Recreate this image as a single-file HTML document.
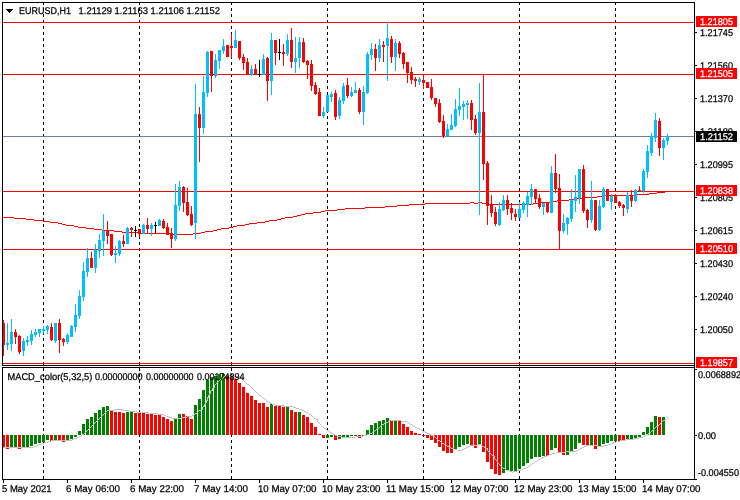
<!DOCTYPE html><html><head><meta charset="utf-8"><title>EURUSD,H1</title>
<style>html,body{margin:0;padding:0;background:#fff}svg{display:block}text{font-family:"Liberation Sans",sans-serif;font-size:9.8px;stroke-width:0.25px;text-rendering:geometricPrecision}</style></head><body>
<svg width="740" height="500" viewBox="0 0 740 500" shape-rendering="crispEdges">
<rect x="0" y="0" width="740" height="500" fill="#fff"/>
<path d="M43.5 2V365" stroke="#000" stroke-width="1" stroke-dasharray="3 3" stroke-dashoffset="0" fill="none"/>
<path d="M43.5 368V479" stroke="#000" stroke-width="1" stroke-dasharray="3 3" stroke-dashoffset="0" fill="none"/>
<path d="M139.5 2V365" stroke="#000" stroke-width="1" stroke-dasharray="3 3" stroke-dashoffset="0" fill="none"/>
<path d="M139.5 368V479" stroke="#000" stroke-width="1" stroke-dasharray="3 3" stroke-dashoffset="0" fill="none"/>
<path d="M231.5 2V365" stroke="#000" stroke-width="1" stroke-dasharray="3 3" stroke-dashoffset="0" fill="none"/>
<path d="M231.5 368V479" stroke="#000" stroke-width="1" stroke-dasharray="3 3" stroke-dashoffset="0" fill="none"/>
<path d="M327.5 2V365" stroke="#000" stroke-width="1" stroke-dasharray="3 3" stroke-dashoffset="0" fill="none"/>
<path d="M327.5 368V479" stroke="#000" stroke-width="1" stroke-dasharray="3 3" stroke-dashoffset="0" fill="none"/>
<path d="M423.5 2V365" stroke="#000" stroke-width="1" stroke-dasharray="3 3" stroke-dashoffset="0" fill="none"/>
<path d="M423.5 368V479" stroke="#000" stroke-width="1" stroke-dasharray="3 3" stroke-dashoffset="0" fill="none"/>
<path d="M519.5 2V365" stroke="#000" stroke-width="1" stroke-dasharray="3 3" stroke-dashoffset="0" fill="none"/>
<path d="M519.5 368V479" stroke="#000" stroke-width="1" stroke-dasharray="3 3" stroke-dashoffset="0" fill="none"/>
<path d="M615.5 2V365" stroke="#000" stroke-width="1" stroke-dasharray="3 3" stroke-dashoffset="0" fill="none"/>
<path d="M615.5 368V479" stroke="#000" stroke-width="1" stroke-dasharray="3 3" stroke-dashoffset="0" fill="none"/>
<rect x="3" y="22" width="691" height="1" fill="#FF0000"/>
<rect x="3" y="74" width="691" height="1" fill="#FF0000"/>
<rect x="3" y="191" width="691" height="1" fill="#FF0000"/>
<rect x="3" y="249" width="691" height="1" fill="#FF0000"/>
<rect x="3" y="363" width="691" height="1" fill="#FF0000"/>
<rect x="3" y="136" width="691" height="1" fill="#708090"/>
<rect x="3" y="217" width="11" height="1" fill="#FF0000"/>
<rect x="14" y="218" width="12" height="1" fill="#FF0000"/>
<rect x="26" y="219" width="8" height="1" fill="#FF0000"/>
<rect x="34" y="220" width="9" height="1" fill="#FF0000"/>
<rect x="43" y="221" width="7" height="1" fill="#FF0000"/>
<rect x="50" y="222" width="8" height="1" fill="#FF0000"/>
<rect x="58" y="223" width="4" height="1" fill="#FF0000"/>
<rect x="62" y="224" width="4" height="1" fill="#FF0000"/>
<rect x="66" y="225" width="8" height="1" fill="#FF0000"/>
<rect x="74" y="226" width="4" height="1" fill="#FF0000"/>
<rect x="78" y="227" width="8" height="1" fill="#FF0000"/>
<rect x="86" y="228" width="8" height="1" fill="#FF0000"/>
<rect x="94" y="229" width="8" height="1" fill="#FF0000"/>
<rect x="102" y="230" width="12" height="1" fill="#FF0000"/>
<rect x="114" y="231" width="8" height="1" fill="#FF0000"/>
<rect x="122" y="232" width="18" height="1" fill="#FF0000"/>
<rect x="140" y="233" width="30" height="1" fill="#FF0000"/>
<rect x="170" y="234" width="23" height="1" fill="#FF0000"/>
<rect x="193" y="233" width="8" height="1" fill="#FF0000"/>
<rect x="201" y="232" width="4" height="1" fill="#FF0000"/>
<rect x="205" y="231" width="8" height="1" fill="#FF0000"/>
<rect x="213" y="230" width="4" height="1" fill="#FF0000"/>
<rect x="217" y="229" width="4" height="1" fill="#FF0000"/>
<rect x="221" y="228" width="8" height="1" fill="#FF0000"/>
<rect x="229" y="227" width="4" height="1" fill="#FF0000"/>
<rect x="233" y="226" width="4" height="1" fill="#FF0000"/>
<rect x="237" y="225" width="8" height="1" fill="#FF0000"/>
<rect x="245" y="224" width="4" height="1" fill="#FF0000"/>
<rect x="249" y="223" width="8" height="1" fill="#FF0000"/>
<rect x="257" y="222" width="8" height="1" fill="#FF0000"/>
<rect x="265" y="221" width="4" height="1" fill="#FF0000"/>
<rect x="269" y="220" width="8" height="1" fill="#FF0000"/>
<rect x="277" y="219" width="4" height="1" fill="#FF0000"/>
<rect x="281" y="218" width="4" height="1" fill="#FF0000"/>
<rect x="285" y="217" width="8" height="1" fill="#FF0000"/>
<rect x="293" y="216" width="4" height="1" fill="#FF0000"/>
<rect x="297" y="215" width="4" height="1" fill="#FF0000"/>
<rect x="301" y="214" width="4" height="1" fill="#FF0000"/>
<rect x="305" y="213" width="8" height="1" fill="#FF0000"/>
<rect x="313" y="212" width="8" height="1" fill="#FF0000"/>
<rect x="321" y="211" width="4" height="1" fill="#FF0000"/>
<rect x="325" y="210" width="12" height="1" fill="#FF0000"/>
<rect x="337" y="209" width="8" height="1" fill="#FF0000"/>
<rect x="345" y="208" width="20" height="1" fill="#FF0000"/>
<rect x="365" y="207" width="20" height="1" fill="#FF0000"/>
<rect x="385" y="206" width="12" height="1" fill="#FF0000"/>
<rect x="397" y="205" width="12" height="1" fill="#FF0000"/>
<rect x="409" y="204" width="16" height="1" fill="#FF0000"/>
<rect x="425" y="203" width="45" height="1" fill="#FF0000"/>
<rect x="470" y="202" width="4" height="1" fill="#FF0000"/>
<rect x="474" y="203" width="4" height="1" fill="#FF0000"/>
<rect x="478" y="202" width="4" height="1" fill="#FF0000"/>
<rect x="482" y="203" width="4" height="1" fill="#FF0000"/>
<rect x="486" y="204" width="47" height="1" fill="#FF0000"/>
<rect x="533" y="203" width="5" height="1" fill="#FF0000"/>
<rect x="538" y="202" width="12" height="1" fill="#FF0000"/>
<rect x="550" y="201" width="7" height="1" fill="#FF0000"/>
<rect x="557" y="200" width="12" height="1" fill="#FF0000"/>
<rect x="569" y="199" width="8" height="1" fill="#FF0000"/>
<rect x="577" y="198" width="5" height="1" fill="#FF0000"/>
<rect x="582" y="197" width="15" height="1" fill="#FF0000"/>
<rect x="597" y="196" width="6" height="1" fill="#FF0000"/>
<rect x="603" y="195" width="34" height="1" fill="#FF0000"/>
<rect x="637" y="194" width="12" height="1" fill="#FF0000"/>
<rect x="649" y="193" width="8" height="1" fill="#FF0000"/>
<rect x="657" y="192" width="8" height="1" fill="#FF0000"/>
<rect x="665" y="191" width="3" height="1" fill="#FF0000"/>
<rect x="3" y="320" width="1" height="36" fill="#FF0000"/>
<rect x="2" y="323" width="3" height="22" fill="#FF0000"/>
<rect x="7" y="323" width="1" height="27" fill="#00BFFF"/>
<rect x="6" y="343" width="3" height="2" fill="#00BFFF"/>
<rect x="11" y="319" width="1" height="32" fill="#00BFFF"/>
<rect x="10" y="332" width="3" height="12" fill="#00BFFF"/>
<rect x="15" y="329" width="1" height="15" fill="#FF0000"/>
<rect x="14" y="332" width="3" height="5" fill="#FF0000"/>
<rect x="19" y="335" width="1" height="19" fill="#FF0000"/>
<rect x="18" y="336" width="3" height="16" fill="#FF0000"/>
<rect x="23" y="338" width="1" height="18" fill="#00BFFF"/>
<rect x="22" y="341" width="3" height="10" fill="#00BFFF"/>
<rect x="27" y="336" width="1" height="10" fill="#00BFFF"/>
<rect x="26" y="340" width="3" height="2" fill="#00BFFF"/>
<rect x="31" y="330" width="1" height="15" fill="#00BFFF"/>
<rect x="30" y="334" width="3" height="7" fill="#00BFFF"/>
<rect x="35" y="329" width="1" height="8" fill="#00BFFF"/>
<rect x="34" y="332" width="3" height="3" fill="#00BFFF"/>
<rect x="39" y="329" width="1" height="8" fill="#00BFFF"/>
<rect x="38" y="329" width="3" height="4" fill="#00BFFF"/>
<rect x="43" y="326" width="1" height="8" fill="#00BFFF"/>
<rect x="42" y="329" width="3" height="2" fill="#00BFFF"/>
<rect x="47" y="325" width="1" height="9" fill="#00BFFF"/>
<rect x="46" y="326" width="3" height="4" fill="#00BFFF"/>
<rect x="51" y="323" width="1" height="18" fill="#FF0000"/>
<rect x="50" y="327" width="3" height="13" fill="#FF0000"/>
<rect x="55" y="323" width="1" height="20" fill="#00BFFF"/>
<rect x="54" y="323" width="3" height="18" fill="#00BFFF"/>
<rect x="59" y="319" width="1" height="34" fill="#FF0000"/>
<rect x="58" y="323" width="3" height="17" fill="#FF0000"/>
<rect x="63" y="338" width="1" height="8" fill="#FF0000"/>
<rect x="62" y="339" width="3" height="3" fill="#FF0000"/>
<rect x="67" y="333" width="1" height="11" fill="#00BFFF"/>
<rect x="66" y="335" width="3" height="7" fill="#00BFFF"/>
<rect x="71" y="325" width="1" height="12" fill="#00BFFF"/>
<rect x="70" y="326" width="3" height="11" fill="#00BFFF"/>
<rect x="75" y="304" width="1" height="28" fill="#00BFFF"/>
<rect x="74" y="315" width="3" height="12" fill="#00BFFF"/>
<rect x="79" y="290" width="1" height="29" fill="#00BFFF"/>
<rect x="78" y="296" width="3" height="20" fill="#00BFFF"/>
<rect x="83" y="262" width="1" height="39" fill="#00BFFF"/>
<rect x="82" y="271" width="3" height="26" fill="#00BFFF"/>
<rect x="87" y="248" width="1" height="29" fill="#00BFFF"/>
<rect x="86" y="258" width="3" height="14" fill="#00BFFF"/>
<rect x="91" y="252" width="1" height="16" fill="#FF0000"/>
<rect x="90" y="258" width="3" height="10" fill="#FF0000"/>
<rect x="95" y="244" width="1" height="29" fill="#00BFFF"/>
<rect x="94" y="250" width="3" height="18" fill="#00BFFF"/>
<rect x="99" y="234" width="1" height="24" fill="#00BFFF"/>
<rect x="98" y="240" width="3" height="11" fill="#00BFFF"/>
<rect x="103" y="214" width="1" height="42" fill="#00BFFF"/>
<rect x="102" y="231" width="3" height="10" fill="#00BFFF"/>
<rect x="107" y="221" width="1" height="23" fill="#FF0000"/>
<rect x="106" y="230" width="3" height="6" fill="#FF0000"/>
<rect x="111" y="234" width="1" height="22" fill="#FF0000"/>
<rect x="110" y="234" width="3" height="21" fill="#FF0000"/>
<rect x="115" y="246" width="1" height="17" fill="#00BFFF"/>
<rect x="114" y="253" width="3" height="2" fill="#00BFFF"/>
<rect x="119" y="240" width="1" height="16" fill="#00BFFF"/>
<rect x="118" y="241" width="3" height="13" fill="#00BFFF"/>
<rect x="123" y="235" width="1" height="12" fill="#FF0000"/>
<rect x="122" y="241" width="3" height="3" fill="#FF0000"/>
<rect x="127" y="227" width="1" height="17" fill="#00BFFF"/>
<rect x="126" y="228" width="3" height="16" fill="#00BFFF"/>
<rect x="131" y="227" width="1" height="10" fill="#FF0000"/>
<rect x="130" y="228" width="3" height="2" fill="#FF0000"/>
<rect x="135" y="226" width="1" height="11" fill="#000"/>
<rect x="134" y="230" width="3" height="1" fill="#000"/>
<rect x="139" y="229" width="1" height="8" fill="#FF0000"/>
<rect x="138" y="229" width="3" height="5" fill="#FF0000"/>
<rect x="143" y="224" width="1" height="10" fill="#00BFFF"/>
<rect x="142" y="225" width="3" height="9" fill="#00BFFF"/>
<rect x="147" y="218" width="1" height="16" fill="#FF0000"/>
<rect x="146" y="225" width="3" height="4" fill="#FF0000"/>
<rect x="151" y="223" width="1" height="13" fill="#00BFFF"/>
<rect x="150" y="225" width="3" height="4" fill="#00BFFF"/>
<rect x="155" y="222" width="1" height="11" fill="#000"/>
<rect x="154" y="225" width="3" height="1" fill="#000"/>
<rect x="159" y="219" width="1" height="7" fill="#00BFFF"/>
<rect x="158" y="220" width="3" height="6" fill="#00BFFF"/>
<rect x="163" y="219" width="1" height="10" fill="#FF0000"/>
<rect x="162" y="221" width="3" height="7" fill="#FF0000"/>
<rect x="167" y="223" width="1" height="12" fill="#FF0000"/>
<rect x="166" y="227" width="3" height="8" fill="#FF0000"/>
<rect x="171" y="228" width="1" height="20" fill="#FF0000"/>
<rect x="170" y="233" width="3" height="6" fill="#FF0000"/>
<rect x="175" y="184" width="1" height="57" fill="#00BFFF"/>
<rect x="174" y="205" width="3" height="34" fill="#00BFFF"/>
<rect x="179" y="181" width="1" height="30" fill="#00BFFF"/>
<rect x="178" y="187" width="3" height="19" fill="#00BFFF"/>
<rect x="183" y="186" width="1" height="26" fill="#FF0000"/>
<rect x="182" y="187" width="3" height="16" fill="#FF0000"/>
<rect x="187" y="188" width="1" height="28" fill="#FF0000"/>
<rect x="186" y="202" width="3" height="13" fill="#FF0000"/>
<rect x="191" y="206" width="1" height="20" fill="#FF0000"/>
<rect x="190" y="214" width="3" height="11" fill="#FF0000"/>
<rect x="195" y="84" width="1" height="155" fill="#00BFFF"/>
<rect x="194" y="114" width="3" height="109" fill="#00BFFF"/>
<rect x="199" y="107" width="1" height="55" fill="#FF0000"/>
<rect x="198" y="114" width="3" height="14" fill="#FF0000"/>
<rect x="203" y="76" width="1" height="58" fill="#00BFFF"/>
<rect x="202" y="92" width="3" height="36" fill="#00BFFF"/>
<rect x="207" y="51" width="1" height="46" fill="#00BFFF"/>
<rect x="206" y="52" width="3" height="41" fill="#00BFFF"/>
<rect x="211" y="51" width="1" height="41" fill="#FF0000"/>
<rect x="210" y="51" width="3" height="25" fill="#FF0000"/>
<rect x="215" y="54" width="1" height="24" fill="#00BFFF"/>
<rect x="214" y="60" width="3" height="16" fill="#00BFFF"/>
<rect x="219" y="50" width="1" height="19" fill="#00BFFF"/>
<rect x="218" y="50" width="3" height="11" fill="#00BFFF"/>
<rect x="223" y="39" width="1" height="15" fill="#00BFFF"/>
<rect x="222" y="46" width="3" height="5" fill="#00BFFF"/>
<rect x="227" y="45" width="1" height="12" fill="#FF0000"/>
<rect x="226" y="45" width="3" height="12" fill="#FF0000"/>
<rect x="231" y="34" width="1" height="24" fill="#FF0000"/>
<rect x="230" y="46" width="3" height="2" fill="#FF0000"/>
<rect x="235" y="30" width="1" height="18" fill="#00BFFF"/>
<rect x="234" y="40" width="3" height="8" fill="#00BFFF"/>
<rect x="239" y="41" width="1" height="19" fill="#FF0000"/>
<rect x="238" y="41" width="3" height="17" fill="#FF0000"/>
<rect x="243" y="54" width="1" height="16" fill="#FF0000"/>
<rect x="242" y="57" width="3" height="6" fill="#FF0000"/>
<rect x="247" y="58" width="1" height="17" fill="#FF0000"/>
<rect x="246" y="62" width="3" height="13" fill="#FF0000"/>
<rect x="251" y="65" width="1" height="11" fill="#00BFFF"/>
<rect x="250" y="69" width="3" height="6" fill="#00BFFF"/>
<rect x="255" y="64" width="1" height="11" fill="#FF0000"/>
<rect x="254" y="69" width="3" height="6" fill="#FF0000"/>
<rect x="259" y="60" width="1" height="17" fill="#000"/>
<rect x="258" y="74" width="3" height="1" fill="#000"/>
<rect x="263" y="54" width="1" height="21" fill="#00BFFF"/>
<rect x="262" y="59" width="3" height="16" fill="#00BFFF"/>
<rect x="267" y="57" width="1" height="44" fill="#FF0000"/>
<rect x="266" y="58" width="3" height="23" fill="#FF0000"/>
<rect x="271" y="33" width="1" height="62" fill="#00BFFF"/>
<rect x="270" y="40" width="3" height="41" fill="#00BFFF"/>
<rect x="275" y="40" width="1" height="25" fill="#FF0000"/>
<rect x="274" y="40" width="3" height="13" fill="#FF0000"/>
<rect x="279" y="39" width="1" height="21" fill="#000"/>
<rect x="278" y="52" width="3" height="1" fill="#000"/>
<rect x="283" y="44" width="1" height="22" fill="#FF0000"/>
<rect x="282" y="52" width="3" height="2" fill="#FF0000"/>
<rect x="287" y="34" width="1" height="22" fill="#00BFFF"/>
<rect x="286" y="40" width="3" height="14" fill="#00BFFF"/>
<rect x="291" y="28" width="1" height="40" fill="#FF0000"/>
<rect x="290" y="40" width="3" height="22" fill="#FF0000"/>
<rect x="295" y="37" width="1" height="36" fill="#00BFFF"/>
<rect x="294" y="58" width="3" height="4" fill="#00BFFF"/>
<rect x="299" y="37" width="1" height="31" fill="#00BFFF"/>
<rect x="298" y="42" width="3" height="16" fill="#00BFFF"/>
<rect x="303" y="38" width="1" height="25" fill="#FF0000"/>
<rect x="302" y="42" width="3" height="20" fill="#FF0000"/>
<rect x="307" y="60" width="1" height="19" fill="#FF0000"/>
<rect x="306" y="61" width="3" height="4" fill="#FF0000"/>
<rect x="311" y="60" width="1" height="31" fill="#FF0000"/>
<rect x="310" y="64" width="3" height="22" fill="#FF0000"/>
<rect x="315" y="82" width="1" height="13" fill="#FF0000"/>
<rect x="314" y="85" width="3" height="9" fill="#FF0000"/>
<rect x="319" y="88" width="1" height="28" fill="#FF0000"/>
<rect x="318" y="92" width="3" height="24" fill="#FF0000"/>
<rect x="323" y="107" width="1" height="11" fill="#00BFFF"/>
<rect x="322" y="112" width="3" height="4" fill="#00BFFF"/>
<rect x="327" y="95" width="1" height="17" fill="#00BFFF"/>
<rect x="326" y="95" width="3" height="17" fill="#00BFFF"/>
<rect x="331" y="92" width="1" height="10" fill="#00BFFF"/>
<rect x="330" y="94" width="3" height="3" fill="#00BFFF"/>
<rect x="335" y="90" width="1" height="30" fill="#FF0000"/>
<rect x="334" y="93" width="3" height="24" fill="#FF0000"/>
<rect x="339" y="97" width="1" height="22" fill="#00BFFF"/>
<rect x="338" y="100" width="3" height="16" fill="#00BFFF"/>
<rect x="343" y="83" width="1" height="21" fill="#00BFFF"/>
<rect x="342" y="86" width="3" height="15" fill="#00BFFF"/>
<rect x="347" y="78" width="1" height="20" fill="#FF0000"/>
<rect x="346" y="85" width="3" height="11" fill="#FF0000"/>
<rect x="351" y="87" width="1" height="10" fill="#00BFFF"/>
<rect x="350" y="92" width="3" height="4" fill="#00BFFF"/>
<rect x="355" y="82" width="1" height="11" fill="#00BFFF"/>
<rect x="354" y="90" width="3" height="3" fill="#00BFFF"/>
<rect x="359" y="88" width="1" height="26" fill="#FF0000"/>
<rect x="358" y="90" width="3" height="22" fill="#FF0000"/>
<rect x="363" y="86" width="1" height="39" fill="#00BFFF"/>
<rect x="362" y="92" width="3" height="20" fill="#00BFFF"/>
<rect x="367" y="52" width="1" height="42" fill="#00BFFF"/>
<rect x="366" y="54" width="3" height="39" fill="#00BFFF"/>
<rect x="371" y="43" width="1" height="17" fill="#00BFFF"/>
<rect x="370" y="49" width="3" height="6" fill="#00BFFF"/>
<rect x="375" y="44" width="1" height="27" fill="#FF0000"/>
<rect x="374" y="49" width="3" height="9" fill="#FF0000"/>
<rect x="379" y="39" width="1" height="23" fill="#00BFFF"/>
<rect x="378" y="45" width="3" height="13" fill="#00BFFF"/>
<rect x="383" y="41" width="1" height="21" fill="#FF0000"/>
<rect x="382" y="45" width="3" height="2" fill="#FF0000"/>
<rect x="387" y="22" width="1" height="59" fill="#00BFFF"/>
<rect x="386" y="38" width="3" height="8" fill="#00BFFF"/>
<rect x="391" y="36" width="1" height="27" fill="#FF0000"/>
<rect x="390" y="39" width="3" height="18" fill="#FF0000"/>
<rect x="395" y="39" width="1" height="32" fill="#00BFFF"/>
<rect x="394" y="43" width="3" height="14" fill="#00BFFF"/>
<rect x="399" y="41" width="1" height="17" fill="#FF0000"/>
<rect x="398" y="43" width="3" height="11" fill="#FF0000"/>
<rect x="403" y="52" width="1" height="17" fill="#FF0000"/>
<rect x="402" y="53" width="3" height="11" fill="#FF0000"/>
<rect x="407" y="62" width="1" height="21" fill="#FF0000"/>
<rect x="406" y="62" width="3" height="11" fill="#FF0000"/>
<rect x="411" y="67" width="1" height="17" fill="#FF0000"/>
<rect x="410" y="72" width="3" height="8" fill="#FF0000"/>
<rect x="415" y="77" width="1" height="10" fill="#FF0000"/>
<rect x="414" y="79" width="3" height="2" fill="#FF0000"/>
<rect x="419" y="77" width="1" height="8" fill="#00BFFF"/>
<rect x="418" y="79" width="3" height="3" fill="#00BFFF"/>
<rect x="423" y="75" width="1" height="14" fill="#FF0000"/>
<rect x="422" y="80" width="3" height="3" fill="#FF0000"/>
<rect x="427" y="82" width="1" height="6" fill="#FF0000"/>
<rect x="426" y="82" width="3" height="6" fill="#FF0000"/>
<rect x="431" y="79" width="1" height="21" fill="#FF0000"/>
<rect x="430" y="87" width="3" height="11" fill="#FF0000"/>
<rect x="435" y="98" width="1" height="9" fill="#FF0000"/>
<rect x="434" y="98" width="3" height="6" fill="#FF0000"/>
<rect x="439" y="99" width="1" height="24" fill="#FF0000"/>
<rect x="438" y="103" width="3" height="19" fill="#FF0000"/>
<rect x="443" y="115" width="1" height="23" fill="#FF0000"/>
<rect x="442" y="121" width="3" height="15" fill="#FF0000"/>
<rect x="447" y="124" width="1" height="12" fill="#00BFFF"/>
<rect x="446" y="129" width="3" height="7" fill="#00BFFF"/>
<rect x="451" y="114" width="1" height="16" fill="#00BFFF"/>
<rect x="450" y="125" width="3" height="5" fill="#00BFFF"/>
<rect x="455" y="99" width="1" height="28" fill="#00BFFF"/>
<rect x="454" y="109" width="3" height="17" fill="#00BFFF"/>
<rect x="459" y="88" width="1" height="28" fill="#00BFFF"/>
<rect x="458" y="106" width="3" height="4" fill="#00BFFF"/>
<rect x="463" y="101" width="1" height="19" fill="#00BFFF"/>
<rect x="462" y="104" width="3" height="3" fill="#00BFFF"/>
<rect x="467" y="100" width="1" height="19" fill="#00BFFF"/>
<rect x="466" y="103" width="3" height="2" fill="#00BFFF"/>
<rect x="471" y="100" width="1" height="30" fill="#FF0000"/>
<rect x="470" y="103" width="3" height="17" fill="#FF0000"/>
<rect x="475" y="115" width="1" height="20" fill="#FF0000"/>
<rect x="474" y="119" width="3" height="14" fill="#FF0000"/>
<rect x="479" y="83" width="1" height="132" fill="#00BFFF"/>
<rect x="478" y="112" width="3" height="21" fill="#00BFFF"/>
<rect x="483" y="74" width="1" height="106" fill="#FF0000"/>
<rect x="482" y="112" width="3" height="52" fill="#FF0000"/>
<rect x="487" y="161" width="1" height="64" fill="#FF0000"/>
<rect x="486" y="163" width="3" height="43" fill="#FF0000"/>
<rect x="491" y="195" width="1" height="22" fill="#FF0000"/>
<rect x="490" y="205" width="3" height="8" fill="#FF0000"/>
<rect x="495" y="207" width="1" height="19" fill="#FF0000"/>
<rect x="494" y="212" width="3" height="12" fill="#FF0000"/>
<rect x="499" y="202" width="1" height="24" fill="#00BFFF"/>
<rect x="498" y="209" width="3" height="16" fill="#00BFFF"/>
<rect x="503" y="195" width="1" height="16" fill="#00BFFF"/>
<rect x="502" y="200" width="3" height="10" fill="#00BFFF"/>
<rect x="507" y="195" width="1" height="20" fill="#FF0000"/>
<rect x="506" y="200" width="3" height="9" fill="#FF0000"/>
<rect x="511" y="203" width="1" height="17" fill="#FF0000"/>
<rect x="510" y="208" width="3" height="5" fill="#FF0000"/>
<rect x="515" y="209" width="1" height="12" fill="#FF0000"/>
<rect x="514" y="214" width="3" height="3" fill="#FF0000"/>
<rect x="519" y="202" width="1" height="16" fill="#00BFFF"/>
<rect x="518" y="209" width="3" height="9" fill="#00BFFF"/>
<rect x="523" y="201" width="1" height="12" fill="#00BFFF"/>
<rect x="522" y="203" width="3" height="7" fill="#00BFFF"/>
<rect x="527" y="192" width="1" height="25" fill="#00BFFF"/>
<rect x="526" y="196" width="3" height="9" fill="#00BFFF"/>
<rect x="531" y="184" width="1" height="21" fill="#00BFFF"/>
<rect x="530" y="189" width="3" height="8" fill="#00BFFF"/>
<rect x="535" y="189" width="1" height="14" fill="#FF0000"/>
<rect x="534" y="189" width="3" height="10" fill="#FF0000"/>
<rect x="539" y="194" width="1" height="15" fill="#FF0000"/>
<rect x="538" y="198" width="3" height="9" fill="#FF0000"/>
<rect x="543" y="203" width="1" height="12" fill="#00BFFF"/>
<rect x="542" y="203" width="3" height="4" fill="#00BFFF"/>
<rect x="547" y="202" width="1" height="11" fill="#FF0000"/>
<rect x="546" y="202" width="3" height="10" fill="#FF0000"/>
<rect x="551" y="166" width="1" height="47" fill="#00BFFF"/>
<rect x="550" y="173" width="3" height="40" fill="#00BFFF"/>
<rect x="555" y="154" width="1" height="39" fill="#FF0000"/>
<rect x="554" y="173" width="3" height="16" fill="#FF0000"/>
<rect x="559" y="174" width="1" height="75" fill="#FF0000"/>
<rect x="558" y="188" width="3" height="43" fill="#FF0000"/>
<rect x="563" y="214" width="1" height="19" fill="#00BFFF"/>
<rect x="562" y="223" width="3" height="8" fill="#00BFFF"/>
<rect x="567" y="217" width="1" height="18" fill="#00BFFF"/>
<rect x="566" y="218" width="3" height="6" fill="#00BFFF"/>
<rect x="571" y="189" width="1" height="33" fill="#00BFFF"/>
<rect x="570" y="200" width="3" height="19" fill="#00BFFF"/>
<rect x="575" y="175" width="1" height="37" fill="#00BFFF"/>
<rect x="574" y="197" width="3" height="4" fill="#00BFFF"/>
<rect x="579" y="169" width="1" height="35" fill="#00BFFF"/>
<rect x="578" y="169" width="3" height="29" fill="#00BFFF"/>
<rect x="583" y="165" width="1" height="48" fill="#FF0000"/>
<rect x="582" y="169" width="3" height="42" fill="#FF0000"/>
<rect x="587" y="209" width="1" height="19" fill="#FF0000"/>
<rect x="586" y="210" width="3" height="10" fill="#FF0000"/>
<rect x="591" y="181" width="1" height="42" fill="#00BFFF"/>
<rect x="590" y="200" width="3" height="20" fill="#00BFFF"/>
<rect x="595" y="200" width="1" height="31" fill="#FF0000"/>
<rect x="594" y="200" width="3" height="30" fill="#FF0000"/>
<rect x="599" y="200" width="1" height="31" fill="#00BFFF"/>
<rect x="598" y="206" width="3" height="24" fill="#00BFFF"/>
<rect x="603" y="187" width="1" height="21" fill="#00BFFF"/>
<rect x="602" y="189" width="3" height="18" fill="#00BFFF"/>
<rect x="607" y="189" width="1" height="12" fill="#FF0000"/>
<rect x="606" y="189" width="3" height="12" fill="#FF0000"/>
<rect x="611" y="194" width="1" height="16" fill="#00BFFF"/>
<rect x="610" y="196" width="3" height="6" fill="#00BFFF"/>
<rect x="615" y="194" width="1" height="9" fill="#FF0000"/>
<rect x="614" y="195" width="3" height="8" fill="#FF0000"/>
<rect x="619" y="201" width="1" height="7" fill="#FF0000"/>
<rect x="618" y="202" width="3" height="4" fill="#FF0000"/>
<rect x="623" y="204" width="1" height="12" fill="#FF0000"/>
<rect x="622" y="205" width="3" height="3" fill="#FF0000"/>
<rect x="627" y="192" width="1" height="21" fill="#00BFFF"/>
<rect x="626" y="195" width="3" height="14" fill="#00BFFF"/>
<rect x="631" y="190" width="1" height="17" fill="#FF0000"/>
<rect x="630" y="195" width="3" height="6" fill="#FF0000"/>
<rect x="635" y="189" width="1" height="13" fill="#00BFFF"/>
<rect x="634" y="190" width="3" height="11" fill="#00BFFF"/>
<rect x="639" y="186" width="1" height="6" fill="#FF0000"/>
<rect x="638" y="190" width="3" height="2" fill="#FF0000"/>
<rect x="643" y="169" width="1" height="24" fill="#00BFFF"/>
<rect x="642" y="171" width="3" height="20" fill="#00BFFF"/>
<rect x="647" y="145" width="1" height="33" fill="#00BFFF"/>
<rect x="646" y="151" width="3" height="21" fill="#00BFFF"/>
<rect x="651" y="133" width="1" height="23" fill="#00BFFF"/>
<rect x="650" y="136" width="3" height="17" fill="#00BFFF"/>
<rect x="655" y="113" width="1" height="29" fill="#00BFFF"/>
<rect x="654" y="120" width="3" height="18" fill="#00BFFF"/>
<rect x="659" y="118" width="1" height="38" fill="#FF0000"/>
<rect x="658" y="121" width="3" height="27" fill="#FF0000"/>
<rect x="663" y="138" width="1" height="22" fill="#00BFFF"/>
<rect x="662" y="140" width="3" height="8" fill="#00BFFF"/>
<rect x="667" y="134" width="1" height="11" fill="#00BFFF"/>
<rect x="666" y="136" width="3" height="5" fill="#00BFFF"/>
<rect x="2" y="435" width="3" height="13" fill="#FF0000"/>
<rect x="6" y="435" width="3" height="14" fill="#FF0000"/>
<rect x="10" y="435" width="3" height="12" fill="#008000"/>
<rect x="14" y="435" width="3" height="12" fill="#008000"/>
<rect x="18" y="435" width="3" height="14" fill="#FF0000"/>
<rect x="22" y="435" width="3" height="12" fill="#008000"/>
<rect x="26" y="435" width="3" height="12" fill="#008000"/>
<rect x="30" y="435" width="3" height="11" fill="#008000"/>
<rect x="34" y="435" width="3" height="9" fill="#008000"/>
<rect x="38" y="435" width="3" height="8" fill="#008000"/>
<rect x="42" y="435" width="3" height="7" fill="#008000"/>
<rect x="46" y="435" width="3" height="5" fill="#008000"/>
<rect x="50" y="435" width="3" height="6" fill="#FF0000"/>
<rect x="54" y="435" width="3" height="5" fill="#008000"/>
<rect x="58" y="435" width="3" height="5" fill="#FF0000"/>
<rect x="62" y="435" width="3" height="7" fill="#FF0000"/>
<rect x="66" y="435" width="3" height="5" fill="#008000"/>
<rect x="70" y="435" width="3" height="4" fill="#008000"/>
<rect x="74" y="435" width="3" height="2" fill="#008000"/>
<rect x="78" y="431" width="3" height="4" fill="#008000"/>
<rect x="82" y="424" width="3" height="11" fill="#008000"/>
<rect x="86" y="419" width="3" height="16" fill="#008000"/>
<rect x="90" y="417" width="3" height="18" fill="#008000"/>
<rect x="94" y="413" width="3" height="22" fill="#008000"/>
<rect x="98" y="410" width="3" height="25" fill="#008000"/>
<rect x="102" y="407" width="3" height="28" fill="#008000"/>
<rect x="106" y="406" width="3" height="29" fill="#008000"/>
<rect x="110" y="410" width="3" height="25" fill="#FF0000"/>
<rect x="114" y="412" width="3" height="23" fill="#FF0000"/>
<rect x="118" y="412" width="3" height="23" fill="#FF0000"/>
<rect x="122" y="413" width="3" height="22" fill="#FF0000"/>
<rect x="126" y="412" width="3" height="23" fill="#008000"/>
<rect x="130" y="411" width="3" height="24" fill="#008000"/>
<rect x="134" y="413" width="3" height="22" fill="#FF0000"/>
<rect x="138" y="413" width="3" height="22" fill="#FF0000"/>
<rect x="142" y="413" width="3" height="22" fill="#FF0000"/>
<rect x="146" y="414" width="3" height="21" fill="#FF0000"/>
<rect x="150" y="414" width="3" height="21" fill="#FF0000"/>
<rect x="154" y="415" width="3" height="20" fill="#FF0000"/>
<rect x="158" y="415" width="3" height="20" fill="#FF0000"/>
<rect x="162" y="417" width="3" height="18" fill="#FF0000"/>
<rect x="166" y="419" width="3" height="16" fill="#FF0000"/>
<rect x="170" y="421" width="3" height="14" fill="#FF0000"/>
<rect x="174" y="419" width="3" height="16" fill="#008000"/>
<rect x="178" y="414" width="3" height="21" fill="#008000"/>
<rect x="182" y="414" width="3" height="21" fill="#FF0000"/>
<rect x="186" y="416" width="3" height="19" fill="#FF0000"/>
<rect x="190" y="419" width="3" height="16" fill="#FF0000"/>
<rect x="194" y="405" width="3" height="30" fill="#008000"/>
<rect x="198" y="399" width="3" height="36" fill="#008000"/>
<rect x="202" y="390" width="3" height="45" fill="#008000"/>
<rect x="206" y="380" width="3" height="55" fill="#008000"/>
<rect x="210" y="377" width="3" height="58" fill="#008000"/>
<rect x="214" y="376" width="3" height="59" fill="#008000"/>
<rect x="218" y="374" width="3" height="61" fill="#008000"/>
<rect x="222" y="374" width="3" height="61" fill="#008000"/>
<rect x="226" y="376" width="3" height="59" fill="#FF0000"/>
<rect x="230" y="377" width="3" height="58" fill="#FF0000"/>
<rect x="234" y="379" width="3" height="56" fill="#FF0000"/>
<rect x="238" y="383" width="3" height="52" fill="#FF0000"/>
<rect x="242" y="387" width="3" height="48" fill="#FF0000"/>
<rect x="246" y="393" width="3" height="42" fill="#FF0000"/>
<rect x="250" y="396" width="3" height="39" fill="#FF0000"/>
<rect x="254" y="400" width="3" height="35" fill="#FF0000"/>
<rect x="258" y="403" width="3" height="32" fill="#FF0000"/>
<rect x="262" y="403" width="3" height="32" fill="#FF0000"/>
<rect x="266" y="407" width="3" height="28" fill="#FF0000"/>
<rect x="270" y="404" width="3" height="31" fill="#008000"/>
<rect x="274" y="406" width="3" height="29" fill="#FF0000"/>
<rect x="278" y="406" width="3" height="29" fill="#FF0000"/>
<rect x="282" y="407" width="3" height="28" fill="#FF0000"/>
<rect x="286" y="407" width="3" height="28" fill="#008000"/>
<rect x="290" y="410" width="3" height="25" fill="#FF0000"/>
<rect x="294" y="412" width="3" height="23" fill="#FF0000"/>
<rect x="298" y="412" width="3" height="23" fill="#008000"/>
<rect x="302" y="415" width="3" height="20" fill="#FF0000"/>
<rect x="306" y="417" width="3" height="18" fill="#FF0000"/>
<rect x="310" y="423" width="3" height="12" fill="#FF0000"/>
<rect x="314" y="427" width="3" height="8" fill="#FF0000"/>
<rect x="318" y="434" width="3" height="1" fill="#FF0000"/>
<rect x="322" y="435" width="3" height="3" fill="#FF0000"/>
<rect x="326" y="435" width="3" height="3" fill="#008000"/>
<rect x="330" y="435" width="3" height="2" fill="#008000"/>
<rect x="334" y="435" width="3" height="5" fill="#FF0000"/>
<rect x="338" y="435" width="3" height="4" fill="#008000"/>
<rect x="342" y="435" width="3" height="2" fill="#008000"/>
<rect x="346" y="435" width="3" height="2" fill="#008000"/>
<rect x="350" y="435" width="3" height="1" fill="#008000"/>
<rect x="354" y="435" width="3" height="1" fill="#008000"/>
<rect x="358" y="435" width="3" height="3" fill="#FF0000"/>
<rect x="362" y="435" width="3" height="1" fill="#008000"/>
<rect x="366" y="430" width="3" height="5" fill="#008000"/>
<rect x="370" y="425" width="3" height="10" fill="#008000"/>
<rect x="374" y="423" width="3" height="12" fill="#008000"/>
<rect x="378" y="421" width="3" height="14" fill="#008000"/>
<rect x="382" y="420" width="3" height="15" fill="#008000"/>
<rect x="386" y="418" width="3" height="17" fill="#008000"/>
<rect x="390" y="421" width="3" height="14" fill="#FF0000"/>
<rect x="394" y="421" width="3" height="14" fill="#008000"/>
<rect x="398" y="421" width="3" height="14" fill="#FF0000"/>
<rect x="402" y="424" width="3" height="11" fill="#FF0000"/>
<rect x="406" y="427" width="3" height="8" fill="#FF0000"/>
<rect x="410" y="431" width="3" height="4" fill="#FF0000"/>
<rect x="414" y="433" width="3" height="2" fill="#FF0000"/>
<rect x="418" y="434" width="3" height="1" fill="#FF0000"/>
<rect x="422" y="435" width="3" height="1" fill="#FF0000"/>
<rect x="426" y="435" width="3" height="3" fill="#FF0000"/>
<rect x="430" y="435" width="3" height="5" fill="#FF0000"/>
<rect x="434" y="435" width="3" height="8" fill="#FF0000"/>
<rect x="438" y="435" width="3" height="12" fill="#FF0000"/>
<rect x="442" y="435" width="3" height="16" fill="#FF0000"/>
<rect x="446" y="435" width="3" height="18" fill="#FF0000"/>
<rect x="450" y="435" width="3" height="18" fill="#FF0000"/>
<rect x="454" y="435" width="3" height="15" fill="#008000"/>
<rect x="458" y="435" width="3" height="12" fill="#008000"/>
<rect x="462" y="435" width="3" height="10" fill="#008000"/>
<rect x="466" y="435" width="3" height="9" fill="#008000"/>
<rect x="470" y="435" width="3" height="10" fill="#FF0000"/>
<rect x="474" y="435" width="3" height="13" fill="#FF0000"/>
<rect x="478" y="435" width="3" height="10" fill="#008000"/>
<rect x="482" y="435" width="3" height="17" fill="#FF0000"/>
<rect x="486" y="435" width="3" height="27" fill="#FF0000"/>
<rect x="490" y="435" width="3" height="34" fill="#FF0000"/>
<rect x="494" y="435" width="3" height="39" fill="#FF0000"/>
<rect x="498" y="435" width="3" height="40" fill="#FF0000"/>
<rect x="502" y="435" width="3" height="38" fill="#008000"/>
<rect x="506" y="435" width="3" height="36" fill="#008000"/>
<rect x="510" y="435" width="3" height="36" fill="#008000"/>
<rect x="514" y="435" width="3" height="36" fill="#008000"/>
<rect x="518" y="435" width="3" height="34" fill="#008000"/>
<rect x="522" y="435" width="3" height="31" fill="#008000"/>
<rect x="526" y="435" width="3" height="28" fill="#008000"/>
<rect x="530" y="435" width="3" height="24" fill="#008000"/>
<rect x="534" y="435" width="3" height="22" fill="#008000"/>
<rect x="538" y="435" width="3" height="22" fill="#008000"/>
<rect x="542" y="435" width="3" height="21" fill="#008000"/>
<rect x="546" y="435" width="3" height="21" fill="#FF0000"/>
<rect x="550" y="435" width="3" height="15" fill="#008000"/>
<rect x="554" y="435" width="3" height="13" fill="#008000"/>
<rect x="558" y="435" width="3" height="17" fill="#FF0000"/>
<rect x="562" y="435" width="3" height="20" fill="#FF0000"/>
<rect x="566" y="435" width="3" height="20" fill="#008000"/>
<rect x="570" y="435" width="3" height="17" fill="#008000"/>
<rect x="574" y="435" width="3" height="14" fill="#008000"/>
<rect x="578" y="435" width="3" height="8" fill="#008000"/>
<rect x="582" y="435" width="3" height="10" fill="#FF0000"/>
<rect x="586" y="435" width="3" height="11" fill="#FF0000"/>
<rect x="590" y="435" width="3" height="10" fill="#008000"/>
<rect x="594" y="435" width="3" height="14" fill="#FF0000"/>
<rect x="598" y="435" width="3" height="11" fill="#008000"/>
<rect x="602" y="435" width="3" height="9" fill="#008000"/>
<rect x="606" y="435" width="3" height="8" fill="#008000"/>
<rect x="610" y="435" width="3" height="6" fill="#008000"/>
<rect x="614" y="435" width="3" height="6" fill="#008000"/>
<rect x="618" y="435" width="3" height="6" fill="#FF0000"/>
<rect x="622" y="435" width="3" height="6" fill="#FF0000"/>
<rect x="626" y="435" width="3" height="5" fill="#008000"/>
<rect x="630" y="435" width="3" height="5" fill="#008000"/>
<rect x="634" y="435" width="3" height="3" fill="#008000"/>
<rect x="638" y="435" width="3" height="2" fill="#008000"/>
<rect x="642" y="432" width="3" height="3" fill="#008000"/>
<rect x="646" y="427" width="3" height="8" fill="#008000"/>
<rect x="650" y="422" width="3" height="13" fill="#008000"/>
<rect x="654" y="416" width="3" height="19" fill="#008000"/>
<rect x="658" y="417" width="3" height="18" fill="#FF0000"/>
<rect x="662" y="417" width="3" height="18" fill="#008000"/>
<rect x="202" y="407" width="1" height="3" fill="#C0C0C0"/>
<rect x="204" y="404" width="1" height="3" fill="#C0C0C0"/>
<rect x="205" y="402" width="1" height="3" fill="#C0C0C0"/>
<rect x="206" y="400" width="1" height="3" fill="#C0C0C0"/>
<rect x="207" y="397" width="1" height="4" fill="#C0C0C0"/>
<rect x="208" y="395" width="1" height="3" fill="#C0C0C0"/>
<rect x="209" y="393" width="1" height="3" fill="#C0C0C0"/>
<rect x="210" y="391" width="1" height="3" fill="#C0C0C0"/>
<rect x="212" y="388" width="1" height="3" fill="#C0C0C0"/>
<rect x="214" y="385" width="1" height="3" fill="#C0C0C0"/>
<rect x="317" y="419" width="1" height="3" fill="#C0C0C0"/>
<rect x="487" y="448" width="1" height="3" fill="#C0C0C0"/>
<rect x="494" y="456" width="1" height="3" fill="#C0C0C0"/>
<rect x="497" y="460" width="1" height="3" fill="#C0C0C0"/>
<rect x="3" y="447" width="31" height="1" fill="#C0C0C0"/>
<rect x="34" y="446" width="3" height="1" fill="#C0C0C0"/>
<rect x="37" y="445" width="2" height="1" fill="#C0C0C0"/>
<rect x="39" y="444" width="3" height="1" fill="#C0C0C0"/>
<rect x="42" y="443" width="2" height="1" fill="#C0C0C0"/>
<rect x="44" y="442" width="4" height="1" fill="#C0C0C0"/>
<rect x="48" y="441" width="3" height="1" fill="#C0C0C0"/>
<rect x="51" y="440" width="21" height="1" fill="#C0C0C0"/>
<rect x="72" y="439" width="2" height="1" fill="#C0C0C0"/>
<rect x="74" y="438" width="3" height="1" fill="#C0C0C0"/>
<rect x="77" y="437" width="2" height="1" fill="#C0C0C0"/>
<rect x="79" y="436" width="2" height="1" fill="#C0C0C0"/>
<rect x="81" y="435" width="1" height="1" fill="#C0C0C0"/>
<rect x="82" y="434" width="2" height="1" fill="#C0C0C0"/>
<rect x="84" y="433" width="1" height="1" fill="#C0C0C0"/>
<rect x="85" y="432" width="1" height="1" fill="#C0C0C0"/>
<rect x="86" y="431" width="1" height="1" fill="#C0C0C0"/>
<rect x="87" y="430" width="1" height="1" fill="#C0C0C0"/>
<rect x="88" y="429" width="1" height="1" fill="#C0C0C0"/>
<rect x="89" y="428" width="1" height="1" fill="#C0C0C0"/>
<rect x="90" y="427" width="1" height="1" fill="#C0C0C0"/>
<rect x="91" y="426" width="1" height="1" fill="#C0C0C0"/>
<rect x="92" y="425" width="1" height="1" fill="#C0C0C0"/>
<rect x="93" y="424" width="1" height="1" fill="#C0C0C0"/>
<rect x="94" y="423" width="1" height="1" fill="#C0C0C0"/>
<rect x="95" y="422" width="1" height="1" fill="#C0C0C0"/>
<rect x="96" y="421" width="1" height="1" fill="#C0C0C0"/>
<rect x="97" y="420" width="1" height="1" fill="#C0C0C0"/>
<rect x="98" y="419" width="1" height="1" fill="#C0C0C0"/>
<rect x="99" y="418" width="1" height="1" fill="#C0C0C0"/>
<rect x="100" y="417" width="1" height="1" fill="#C0C0C0"/>
<rect x="101" y="416" width="1" height="1" fill="#C0C0C0"/>
<rect x="102" y="415" width="1" height="1" fill="#C0C0C0"/>
<rect x="103" y="414" width="1" height="1" fill="#C0C0C0"/>
<rect x="104" y="413" width="1" height="1" fill="#C0C0C0"/>
<rect x="105" y="412" width="1" height="1" fill="#C0C0C0"/>
<rect x="106" y="411" width="1" height="1" fill="#C0C0C0"/>
<rect x="107" y="410" width="8" height="1" fill="#C0C0C0"/>
<rect x="115" y="409" width="8" height="1" fill="#C0C0C0"/>
<rect x="123" y="410" width="6" height="1" fill="#C0C0C0"/>
<rect x="129" y="411" width="8" height="1" fill="#C0C0C0"/>
<rect x="137" y="412" width="12" height="1" fill="#C0C0C0"/>
<rect x="149" y="413" width="8" height="1" fill="#C0C0C0"/>
<rect x="157" y="414" width="7" height="1" fill="#C0C0C0"/>
<rect x="164" y="415" width="2" height="1" fill="#C0C0C0"/>
<rect x="166" y="416" width="3" height="1" fill="#C0C0C0"/>
<rect x="169" y="417" width="3" height="1" fill="#C0C0C0"/>
<rect x="172" y="418" width="9" height="1" fill="#C0C0C0"/>
<rect x="181" y="417" width="6" height="1" fill="#C0C0C0"/>
<rect x="187" y="416" width="5" height="1" fill="#C0C0C0"/>
<rect x="192" y="415" width="2" height="1" fill="#C0C0C0"/>
<rect x="194" y="414" width="1" height="1" fill="#C0C0C0"/>
<rect x="195" y="413" width="2" height="1" fill="#C0C0C0"/>
<rect x="197" y="412" width="1" height="1" fill="#C0C0C0"/>
<rect x="198" y="411" width="1" height="1" fill="#C0C0C0"/>
<rect x="199" y="410" width="2" height="1" fill="#C0C0C0"/>
<rect x="201" y="409" width="1" height="1" fill="#C0C0C0"/>
<rect x="203" y="406" width="1" height="1" fill="#C0C0C0"/>
<rect x="211" y="390" width="1" height="1" fill="#C0C0C0"/>
<rect x="213" y="387" width="1" height="1" fill="#C0C0C0"/>
<rect x="215" y="384" width="1" height="1" fill="#C0C0C0"/>
<rect x="216" y="383" width="1" height="1" fill="#C0C0C0"/>
<rect x="217" y="382" width="1" height="1" fill="#C0C0C0"/>
<rect x="218" y="381" width="1" height="1" fill="#C0C0C0"/>
<rect x="219" y="380" width="1" height="1" fill="#C0C0C0"/>
<rect x="220" y="379" width="1" height="1" fill="#C0C0C0"/>
<rect x="221" y="378" width="2" height="1" fill="#C0C0C0"/>
<rect x="223" y="377" width="1" height="1" fill="#C0C0C0"/>
<rect x="224" y="376" width="2" height="1" fill="#C0C0C0"/>
<rect x="226" y="375" width="8" height="1" fill="#C0C0C0"/>
<rect x="234" y="376" width="2" height="1" fill="#C0C0C0"/>
<rect x="236" y="377" width="3" height="1" fill="#C0C0C0"/>
<rect x="239" y="378" width="3" height="1" fill="#C0C0C0"/>
<rect x="242" y="379" width="1" height="1" fill="#C0C0C0"/>
<rect x="243" y="380" width="1" height="1" fill="#C0C0C0"/>
<rect x="244" y="381" width="1" height="1" fill="#C0C0C0"/>
<rect x="245" y="382" width="1" height="1" fill="#C0C0C0"/>
<rect x="246" y="383" width="1" height="1" fill="#C0C0C0"/>
<rect x="247" y="384" width="2" height="1" fill="#C0C0C0"/>
<rect x="249" y="385" width="1" height="1" fill="#C0C0C0"/>
<rect x="250" y="386" width="1" height="1" fill="#C0C0C0"/>
<rect x="251" y="387" width="1" height="1" fill="#C0C0C0"/>
<rect x="252" y="388" width="1" height="1" fill="#C0C0C0"/>
<rect x="253" y="389" width="1" height="1" fill="#C0C0C0"/>
<rect x="254" y="390" width="1" height="1" fill="#C0C0C0"/>
<rect x="255" y="391" width="1" height="1" fill="#C0C0C0"/>
<rect x="256" y="392" width="1" height="1" fill="#C0C0C0"/>
<rect x="257" y="393" width="1" height="1" fill="#C0C0C0"/>
<rect x="258" y="394" width="1" height="1" fill="#C0C0C0"/>
<rect x="259" y="395" width="2" height="1" fill="#C0C0C0"/>
<rect x="261" y="396" width="1" height="1" fill="#C0C0C0"/>
<rect x="262" y="397" width="1" height="1" fill="#C0C0C0"/>
<rect x="263" y="398" width="2" height="1" fill="#C0C0C0"/>
<rect x="265" y="399" width="1" height="1" fill="#C0C0C0"/>
<rect x="266" y="400" width="1" height="1" fill="#C0C0C0"/>
<rect x="267" y="401" width="2" height="1" fill="#C0C0C0"/>
<rect x="269" y="402" width="1" height="1" fill="#C0C0C0"/>
<rect x="270" y="403" width="2" height="1" fill="#C0C0C0"/>
<rect x="272" y="404" width="3" height="1" fill="#C0C0C0"/>
<rect x="275" y="405" width="9" height="1" fill="#C0C0C0"/>
<rect x="284" y="406" width="9" height="1" fill="#C0C0C0"/>
<rect x="293" y="407" width="3" height="1" fill="#C0C0C0"/>
<rect x="296" y="408" width="3" height="1" fill="#C0C0C0"/>
<rect x="299" y="409" width="3" height="1" fill="#C0C0C0"/>
<rect x="302" y="410" width="2" height="1" fill="#C0C0C0"/>
<rect x="304" y="411" width="2" height="1" fill="#C0C0C0"/>
<rect x="306" y="412" width="2" height="1" fill="#C0C0C0"/>
<rect x="308" y="413" width="1" height="1" fill="#C0C0C0"/>
<rect x="309" y="414" width="2" height="1" fill="#C0C0C0"/>
<rect x="311" y="415" width="1" height="1" fill="#C0C0C0"/>
<rect x="312" y="416" width="1" height="1" fill="#C0C0C0"/>
<rect x="313" y="417" width="1" height="1" fill="#C0C0C0"/>
<rect x="314" y="418" width="2" height="1" fill="#C0C0C0"/>
<rect x="316" y="419" width="1" height="1" fill="#C0C0C0"/>
<rect x="318" y="422" width="1" height="1" fill="#C0C0C0"/>
<rect x="319" y="423" width="1" height="1" fill="#C0C0C0"/>
<rect x="320" y="424" width="1" height="1" fill="#C0C0C0"/>
<rect x="321" y="425" width="1" height="1" fill="#C0C0C0"/>
<rect x="322" y="426" width="1" height="1" fill="#C0C0C0"/>
<rect x="323" y="427" width="1" height="1" fill="#C0C0C0"/>
<rect x="324" y="428" width="2" height="1" fill="#C0C0C0"/>
<rect x="326" y="429" width="1" height="1" fill="#C0C0C0"/>
<rect x="327" y="430" width="2" height="1" fill="#C0C0C0"/>
<rect x="329" y="431" width="1" height="1" fill="#C0C0C0"/>
<rect x="330" y="432" width="2" height="1" fill="#C0C0C0"/>
<rect x="332" y="433" width="1" height="1" fill="#C0C0C0"/>
<rect x="333" y="434" width="2" height="1" fill="#C0C0C0"/>
<rect x="335" y="435" width="2" height="1" fill="#C0C0C0"/>
<rect x="337" y="436" width="5" height="1" fill="#C0C0C0"/>
<rect x="342" y="437" width="14" height="1" fill="#C0C0C0"/>
<rect x="356" y="436" width="7" height="1" fill="#C0C0C0"/>
<rect x="363" y="435" width="4" height="1" fill="#C0C0C0"/>
<rect x="367" y="434" width="2" height="1" fill="#C0C0C0"/>
<rect x="369" y="433" width="3" height="1" fill="#C0C0C0"/>
<rect x="372" y="432" width="1" height="1" fill="#C0C0C0"/>
<rect x="373" y="431" width="2" height="1" fill="#C0C0C0"/>
<rect x="375" y="430" width="1" height="1" fill="#C0C0C0"/>
<rect x="376" y="429" width="1" height="1" fill="#C0C0C0"/>
<rect x="377" y="428" width="2" height="1" fill="#C0C0C0"/>
<rect x="379" y="427" width="1" height="1" fill="#C0C0C0"/>
<rect x="380" y="426" width="1" height="1" fill="#C0C0C0"/>
<rect x="381" y="425" width="1" height="1" fill="#C0C0C0"/>
<rect x="382" y="424" width="2" height="1" fill="#C0C0C0"/>
<rect x="384" y="423" width="1" height="1" fill="#C0C0C0"/>
<rect x="385" y="422" width="3" height="1" fill="#C0C0C0"/>
<rect x="388" y="421" width="1" height="1" fill="#C0C0C0"/>
<rect x="389" y="420" width="12" height="1" fill="#C0C0C0"/>
<rect x="401" y="421" width="6" height="1" fill="#C0C0C0"/>
<rect x="407" y="422" width="2" height="1" fill="#C0C0C0"/>
<rect x="409" y="423" width="1" height="1" fill="#C0C0C0"/>
<rect x="410" y="424" width="2" height="1" fill="#C0C0C0"/>
<rect x="412" y="425" width="1" height="1" fill="#C0C0C0"/>
<rect x="413" y="426" width="2" height="1" fill="#C0C0C0"/>
<rect x="415" y="427" width="2" height="1" fill="#C0C0C0"/>
<rect x="417" y="428" width="2" height="1" fill="#C0C0C0"/>
<rect x="419" y="429" width="2" height="1" fill="#C0C0C0"/>
<rect x="421" y="430" width="2" height="1" fill="#C0C0C0"/>
<rect x="423" y="431" width="2" height="1" fill="#C0C0C0"/>
<rect x="425" y="432" width="2" height="1" fill="#C0C0C0"/>
<rect x="427" y="433" width="2" height="1" fill="#C0C0C0"/>
<rect x="429" y="434" width="2" height="1" fill="#C0C0C0"/>
<rect x="431" y="435" width="2" height="1" fill="#C0C0C0"/>
<rect x="433" y="436" width="2" height="1" fill="#C0C0C0"/>
<rect x="435" y="437" width="1" height="1" fill="#C0C0C0"/>
<rect x="436" y="438" width="1" height="1" fill="#C0C0C0"/>
<rect x="437" y="439" width="1" height="1" fill="#C0C0C0"/>
<rect x="438" y="440" width="2" height="1" fill="#C0C0C0"/>
<rect x="440" y="441" width="1" height="1" fill="#C0C0C0"/>
<rect x="441" y="442" width="1" height="1" fill="#C0C0C0"/>
<rect x="442" y="443" width="2" height="1" fill="#C0C0C0"/>
<rect x="444" y="444" width="2" height="1" fill="#C0C0C0"/>
<rect x="446" y="445" width="1" height="1" fill="#C0C0C0"/>
<rect x="447" y="446" width="2" height="1" fill="#C0C0C0"/>
<rect x="449" y="447" width="2" height="1" fill="#C0C0C0"/>
<rect x="451" y="448" width="3" height="1" fill="#C0C0C0"/>
<rect x="454" y="449" width="3" height="1" fill="#C0C0C0"/>
<rect x="457" y="450" width="5" height="1" fill="#C0C0C0"/>
<rect x="462" y="449" width="2" height="1" fill="#C0C0C0"/>
<rect x="464" y="448" width="2" height="1" fill="#C0C0C0"/>
<rect x="466" y="447" width="2" height="1" fill="#C0C0C0"/>
<rect x="468" y="446" width="2" height="1" fill="#C0C0C0"/>
<rect x="470" y="445" width="8" height="1" fill="#C0C0C0"/>
<rect x="478" y="444" width="3" height="1" fill="#C0C0C0"/>
<rect x="481" y="445" width="1" height="1" fill="#C0C0C0"/>
<rect x="482" y="446" width="2" height="1" fill="#C0C0C0"/>
<rect x="484" y="447" width="1" height="1" fill="#C0C0C0"/>
<rect x="485" y="448" width="2" height="1" fill="#C0C0C0"/>
<rect x="488" y="451" width="1" height="1" fill="#C0C0C0"/>
<rect x="489" y="452" width="1" height="1" fill="#C0C0C0"/>
<rect x="490" y="453" width="1" height="1" fill="#C0C0C0"/>
<rect x="491" y="454" width="1" height="1" fill="#C0C0C0"/>
<rect x="492" y="455" width="1" height="1" fill="#C0C0C0"/>
<rect x="493" y="456" width="1" height="1" fill="#C0C0C0"/>
<rect x="495" y="459" width="1" height="1" fill="#C0C0C0"/>
<rect x="496" y="460" width="1" height="1" fill="#C0C0C0"/>
<rect x="498" y="463" width="1" height="1" fill="#C0C0C0"/>
<rect x="499" y="464" width="1" height="1" fill="#C0C0C0"/>
<rect x="500" y="465" width="1" height="1" fill="#C0C0C0"/>
<rect x="501" y="466" width="1" height="1" fill="#C0C0C0"/>
<rect x="502" y="467" width="1" height="1" fill="#C0C0C0"/>
<rect x="503" y="468" width="2" height="1" fill="#C0C0C0"/>
<rect x="505" y="469" width="1" height="1" fill="#C0C0C0"/>
<rect x="506" y="470" width="3" height="1" fill="#C0C0C0"/>
<rect x="509" y="471" width="3" height="1" fill="#C0C0C0"/>
<rect x="512" y="472" width="1" height="1" fill="#C0C0C0"/>
<rect x="513" y="471" width="4" height="1" fill="#C0C0C0"/>
<rect x="517" y="470" width="4" height="1" fill="#C0C0C0"/>
<rect x="521" y="469" width="2" height="1" fill="#C0C0C0"/>
<rect x="523" y="468" width="3" height="1" fill="#C0C0C0"/>
<rect x="526" y="467" width="2" height="1" fill="#C0C0C0"/>
<rect x="528" y="466" width="2" height="1" fill="#C0C0C0"/>
<rect x="530" y="465" width="1" height="1" fill="#C0C0C0"/>
<rect x="531" y="464" width="1" height="1" fill="#C0C0C0"/>
<rect x="532" y="463" width="2" height="1" fill="#C0C0C0"/>
<rect x="534" y="462" width="1" height="1" fill="#C0C0C0"/>
<rect x="535" y="461" width="2" height="1" fill="#C0C0C0"/>
<rect x="537" y="460" width="1" height="1" fill="#C0C0C0"/>
<rect x="538" y="459" width="2" height="1" fill="#C0C0C0"/>
<rect x="540" y="458" width="2" height="1" fill="#C0C0C0"/>
<rect x="542" y="457" width="2" height="1" fill="#C0C0C0"/>
<rect x="544" y="456" width="3" height="1" fill="#C0C0C0"/>
<rect x="547" y="455" width="2" height="1" fill="#C0C0C0"/>
<rect x="549" y="454" width="3" height="1" fill="#C0C0C0"/>
<rect x="552" y="453" width="4" height="1" fill="#C0C0C0"/>
<rect x="556" y="452" width="9" height="1" fill="#C0C0C0"/>
<rect x="565" y="451" width="11" height="1" fill="#C0C0C0"/>
<rect x="576" y="450" width="2" height="1" fill="#C0C0C0"/>
<rect x="578" y="449" width="2" height="1" fill="#C0C0C0"/>
<rect x="580" y="448" width="2" height="1" fill="#C0C0C0"/>
<rect x="582" y="447" width="2" height="1" fill="#C0C0C0"/>
<rect x="584" y="446" width="2" height="1" fill="#C0C0C0"/>
<rect x="586" y="445" width="12" height="1" fill="#C0C0C0"/>
<rect x="598" y="446" width="6" height="1" fill="#C0C0C0"/>
<rect x="604" y="445" width="4" height="1" fill="#C0C0C0"/>
<rect x="608" y="444" width="3" height="1" fill="#C0C0C0"/>
<rect x="611" y="443" width="2" height="1" fill="#C0C0C0"/>
<rect x="613" y="442" width="3" height="1" fill="#C0C0C0"/>
<rect x="616" y="441" width="4" height="1" fill="#C0C0C0"/>
<rect x="620" y="440" width="6" height="1" fill="#C0C0C0"/>
<rect x="626" y="439" width="8" height="1" fill="#C0C0C0"/>
<rect x="634" y="438" width="5" height="1" fill="#C0C0C0"/>
<rect x="639" y="437" width="4" height="1" fill="#C0C0C0"/>
<rect x="643" y="436" width="2" height="1" fill="#C0C0C0"/>
<rect x="645" y="435" width="1" height="1" fill="#C0C0C0"/>
<rect x="646" y="434" width="2" height="1" fill="#C0C0C0"/>
<rect x="648" y="433" width="1" height="1" fill="#C0C0C0"/>
<rect x="649" y="432" width="2" height="1" fill="#C0C0C0"/>
<rect x="651" y="431" width="1" height="1" fill="#C0C0C0"/>
<rect x="652" y="430" width="1" height="1" fill="#C0C0C0"/>
<rect x="653" y="429" width="1" height="1" fill="#C0C0C0"/>
<rect x="654" y="428" width="1" height="1" fill="#C0C0C0"/>
<rect x="655" y="427" width="1" height="1" fill="#C0C0C0"/>
<rect x="656" y="426" width="2" height="1" fill="#C0C0C0"/>
<rect x="658" y="425" width="1" height="1" fill="#C0C0C0"/>
<rect x="659" y="424" width="1" height="1" fill="#C0C0C0"/>
<rect x="660" y="423" width="1" height="1" fill="#C0C0C0"/>
<rect x="661" y="422" width="1" height="1" fill="#C0C0C0"/>
<rect x="662" y="421" width="1" height="1" fill="#C0C0C0"/>
<rect x="663" y="420" width="2" height="1" fill="#C0C0C0"/>
<rect x="665" y="419" width="1" height="1" fill="#C0C0C0"/>
<rect x="666" y="418" width="1" height="1" fill="#C0C0C0"/>
<rect x="667" y="417" width="1" height="1" fill="#C0C0C0"/>
<rect x="2" y="2" width="1" height="364" fill="#000"/>
<rect x="2" y="367" width="1" height="113" fill="#000"/>
<rect x="2" y="2" width="693" height="1" fill="#000"/>
<rect x="2" y="365" width="693" height="1" fill="#000"/>
<rect x="2" y="367" width="693" height="1" fill="#000"/>
<rect x="2" y="479" width="695" height="1" fill="#000"/>
<rect x="694" y="2" width="1" height="478" fill="#000"/>
<rect x="695" y="32" width="2" height="1" fill="#000"/>
<text x="700" y="36" fill="#000" stroke="#000" textLength="33" lengthAdjust="spacingAndGlyphs">1.21745</text>
<rect x="695" y="65" width="2" height="1" fill="#000"/>
<text x="700" y="69" fill="#000" stroke="#000" textLength="33" lengthAdjust="spacingAndGlyphs">1.21560</text>
<rect x="695" y="98" width="2" height="1" fill="#000"/>
<text x="700" y="102" fill="#000" stroke="#000" textLength="33" lengthAdjust="spacingAndGlyphs">1.21370</text>
<rect x="695" y="131" width="2" height="1" fill="#000"/>
<text x="700" y="135" fill="#000" stroke="#000" textLength="33" lengthAdjust="spacingAndGlyphs">1.21180</text>
<rect x="695" y="164" width="2" height="1" fill="#000"/>
<text x="700" y="168" fill="#000" stroke="#000" textLength="33" lengthAdjust="spacingAndGlyphs">1.20995</text>
<rect x="695" y="197" width="2" height="1" fill="#000"/>
<text x="700" y="201" fill="#000" stroke="#000" textLength="33" lengthAdjust="spacingAndGlyphs">1.20805</text>
<rect x="695" y="230" width="2" height="1" fill="#000"/>
<text x="700" y="234" fill="#000" stroke="#000" textLength="33" lengthAdjust="spacingAndGlyphs">1.20615</text>
<rect x="695" y="263" width="2" height="1" fill="#000"/>
<text x="700" y="267" fill="#000" stroke="#000" textLength="33" lengthAdjust="spacingAndGlyphs">1.20430</text>
<rect x="695" y="296" width="2" height="1" fill="#000"/>
<text x="700" y="300" fill="#000" stroke="#000" textLength="33" lengthAdjust="spacingAndGlyphs">1.20240</text>
<rect x="695" y="329" width="2" height="1" fill="#000"/>
<text x="700" y="333" fill="#000" stroke="#000" textLength="33" lengthAdjust="spacingAndGlyphs">1.20050</text>
<rect x="696" y="16" width="41" height="11" fill="#FF0000"/>
<text x="700" y="25" fill="#fff" stroke="#fff" textLength="33" lengthAdjust="spacingAndGlyphs">1.21805</text>
<rect x="696" y="68" width="41" height="11" fill="#FF0000"/>
<text x="700" y="77" fill="#fff" stroke="#fff" textLength="33" lengthAdjust="spacingAndGlyphs">1.21505</text>
<rect x="696" y="185" width="41" height="11" fill="#FF0000"/>
<text x="700" y="194" fill="#fff" stroke="#fff" textLength="33" lengthAdjust="spacingAndGlyphs">1.20838</text>
<rect x="696" y="243" width="41" height="11" fill="#FF0000"/>
<text x="700" y="252" fill="#fff" stroke="#fff" textLength="33" lengthAdjust="spacingAndGlyphs">1.20510</text>
<rect x="696" y="357" width="41" height="11" fill="#FF0000"/>
<text x="700" y="366" fill="#fff" stroke="#fff" textLength="33" lengthAdjust="spacingAndGlyphs">1.19857</text>
<rect x="696" y="131" width="41" height="11" fill="#000"/>
<rect x="695" y="131" width="1" height="1" fill="#000"/>
<text x="700" y="140" fill="#fff" stroke="#fff" textLength="33" lengthAdjust="spacingAndGlyphs">1.21152</text>
<rect x="695" y="369" width="2" height="1" fill="#000"/>
<text x="698" y="378" fill="#000" stroke="#000" textLength="43" lengthAdjust="spacingAndGlyphs">0.0068892</text>
<rect x="695" y="435" width="2" height="1" fill="#000"/>
<text x="698" y="439" fill="#000" stroke="#000" textLength="18" lengthAdjust="spacingAndGlyphs">0.00</text>
<text x="698" y="476" fill="#000" stroke="#000" textLength="41" lengthAdjust="spacingAndGlyphs">-0.004550</text>
<rect x="3" y="480" width="1" height="3" fill="#000"/>
<text x="2" y="492" fill="#000" stroke="#000" textLength="49.5" lengthAdjust="spacingAndGlyphs">5 May 2021</text>
<rect x="67" y="480" width="1" height="3" fill="#000"/>
<text x="66" y="492" fill="#000" stroke="#000" textLength="54" lengthAdjust="spacingAndGlyphs">6 May 06:00</text>
<rect x="131" y="480" width="1" height="3" fill="#000"/>
<text x="130" y="492" fill="#000" stroke="#000" textLength="54" lengthAdjust="spacingAndGlyphs">6 May 22:00</text>
<rect x="195" y="480" width="1" height="3" fill="#000"/>
<text x="194" y="492" fill="#000" stroke="#000" textLength="54" lengthAdjust="spacingAndGlyphs">7 May 14:00</text>
<rect x="259" y="480" width="1" height="3" fill="#000"/>
<text x="258" y="492" fill="#000" stroke="#000" textLength="58.5" lengthAdjust="spacingAndGlyphs">10 May 07:00</text>
<rect x="323" y="480" width="1" height="3" fill="#000"/>
<text x="322" y="492" fill="#000" stroke="#000" textLength="58.5" lengthAdjust="spacingAndGlyphs">10 May 23:00</text>
<rect x="387" y="480" width="1" height="3" fill="#000"/>
<text x="386" y="492" fill="#000" stroke="#000" textLength="58.5" lengthAdjust="spacingAndGlyphs">11 May 15:00</text>
<rect x="451" y="480" width="1" height="3" fill="#000"/>
<text x="450" y="492" fill="#000" stroke="#000" textLength="58.5" lengthAdjust="spacingAndGlyphs">12 May 07:00</text>
<rect x="515" y="480" width="1" height="3" fill="#000"/>
<text x="514" y="492" fill="#000" stroke="#000" textLength="58.5" lengthAdjust="spacingAndGlyphs">12 May 23:00</text>
<rect x="579" y="480" width="1" height="3" fill="#000"/>
<text x="578" y="492" fill="#000" stroke="#000" textLength="58.5" lengthAdjust="spacingAndGlyphs">13 May 15:00</text>
<rect x="643" y="480" width="1" height="3" fill="#000"/>
<text x="642" y="492" fill="#000" stroke="#000" textLength="58.5" lengthAdjust="spacingAndGlyphs">14 May 07:00</text>
<path d="M6 9h7l-3.5 4z" fill="#000"/>
<text x="19" y="14" fill="#000" stroke="#000" textLength="52" lengthAdjust="spacingAndGlyphs">EURUSD,H1</text>
<text x="78.6" y="14" fill="#000" stroke="#000" textLength="33.3" lengthAdjust="spacingAndGlyphs">1.21129</text>
<text x="114.6" y="14" fill="#000" stroke="#000" textLength="33.3" lengthAdjust="spacingAndGlyphs">1.21163</text>
<text x="150.6" y="14" fill="#000" stroke="#000" textLength="33.3" lengthAdjust="spacingAndGlyphs">1.21106</text>
<text x="186.6" y="14" fill="#000" stroke="#000" textLength="33.3" lengthAdjust="spacingAndGlyphs">1.21152</text>
<text x="7.4" y="380" fill="#000" stroke="#000" textLength="85" lengthAdjust="spacingAndGlyphs">MACD_color(5,32,5)</text>
<text x="95" y="380" fill="#000" stroke="#000" textLength="47.5" lengthAdjust="spacingAndGlyphs">0.00000000</text>
<text x="146" y="380" fill="#000" stroke="#000" textLength="47.5" lengthAdjust="spacingAndGlyphs">0.00000000</text>
<text x="197" y="380" fill="#000" stroke="#000" textLength="47.5" lengthAdjust="spacingAndGlyphs">0.00174894</text>
</svg></body></html>
